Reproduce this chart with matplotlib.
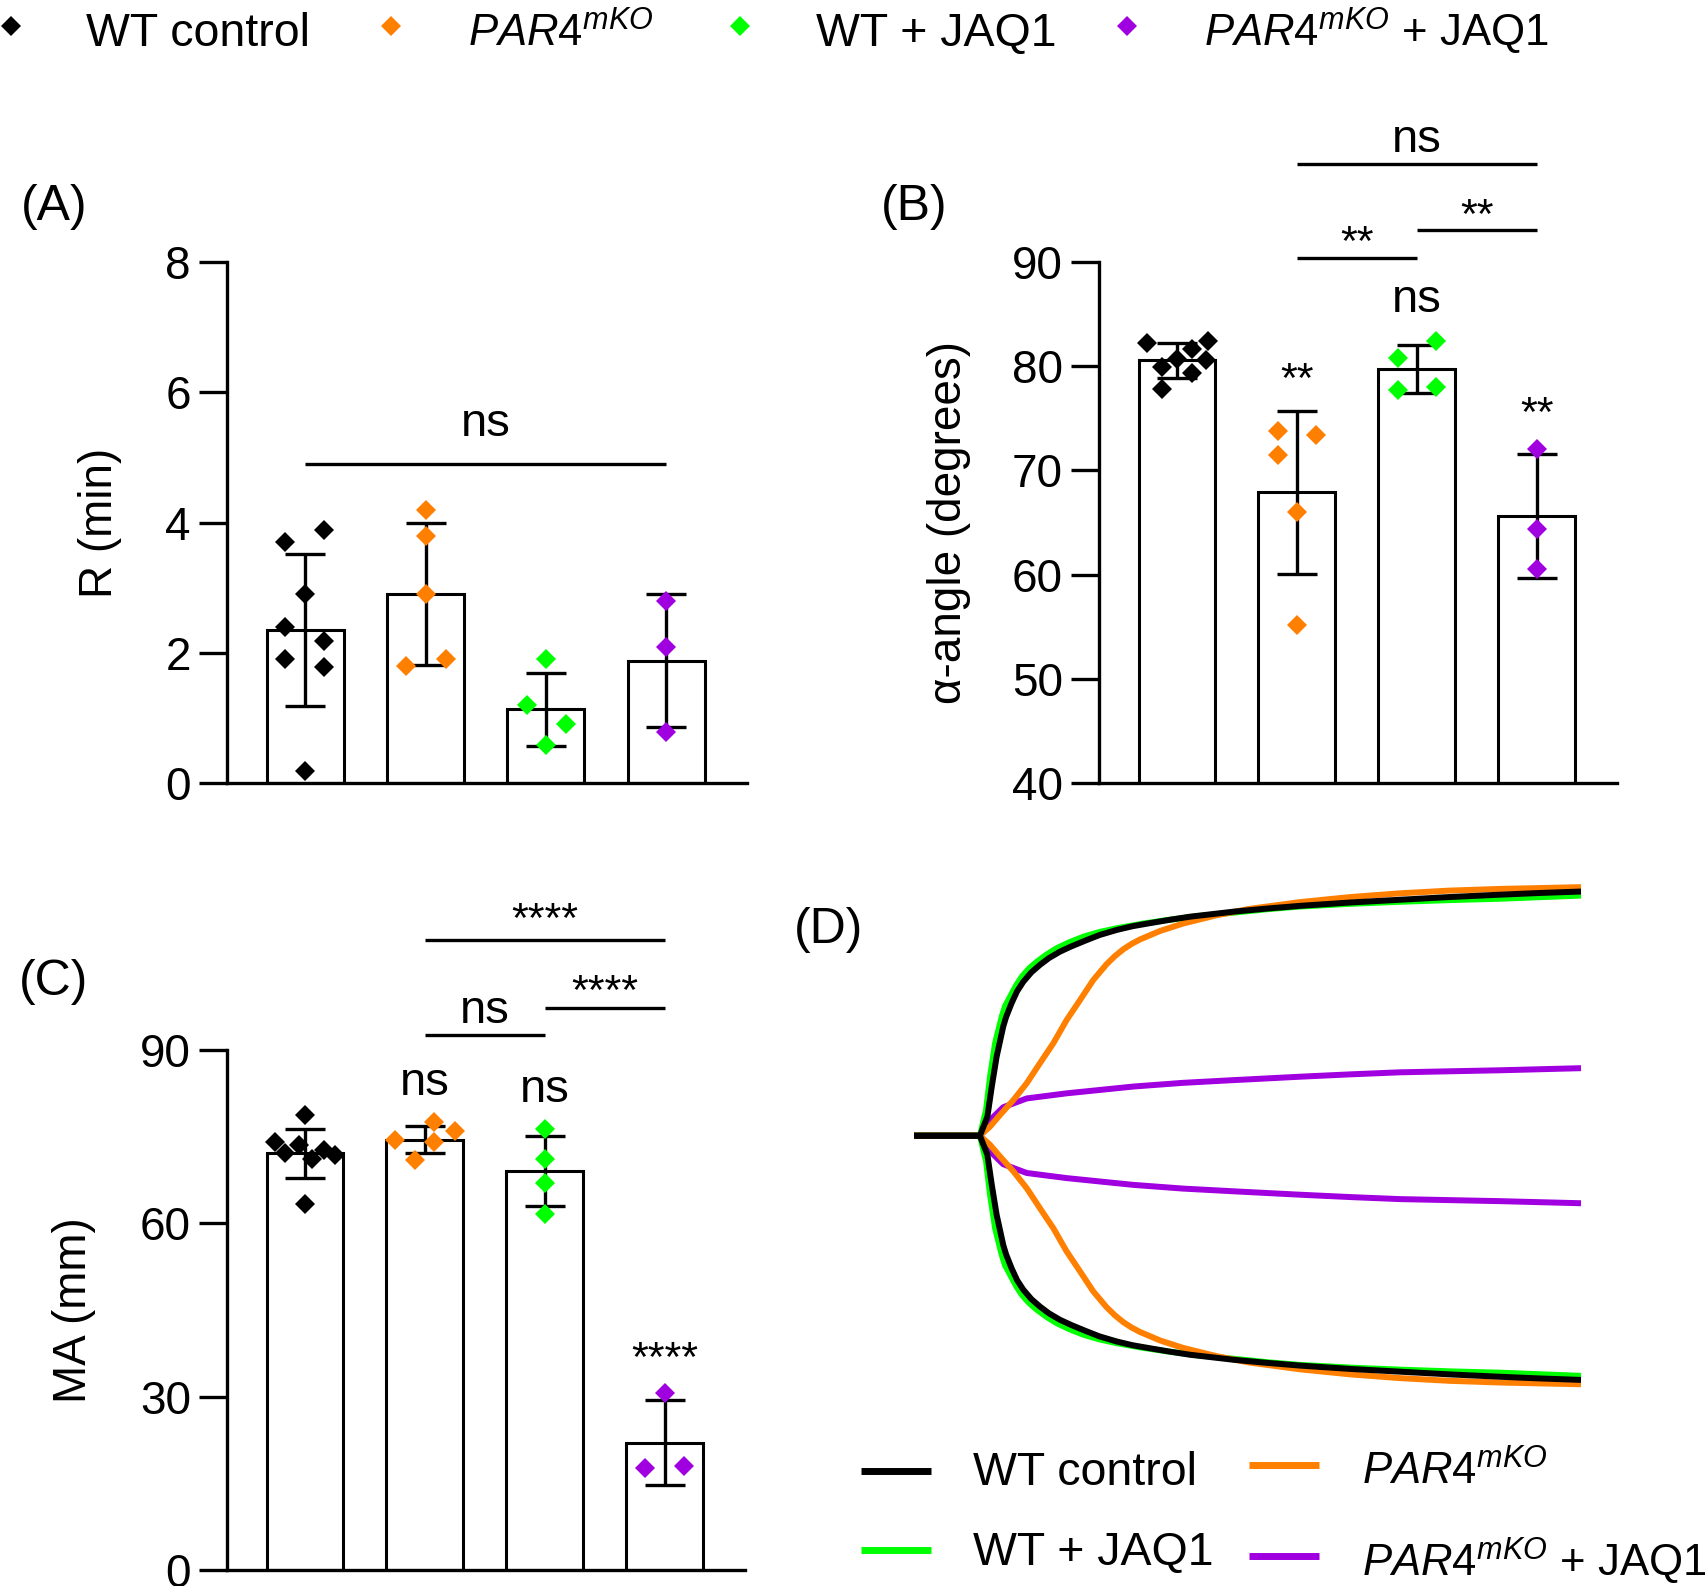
import numpy as np
import matplotlib
matplotlib.use('Agg')
import matplotlib.pyplot as plt
from matplotlib.lines import Line2D

plt.rcParams['font.family'] = ['Liberation Sans', 'DejaVu Sans']
plt.rcParams['mathtext.fontset'] = 'custom'
plt.rcParams['mathtext.rm'] = 'Liberation Sans'
plt.rcParams['mathtext.it'] = 'Liberation Sans:italic'
plt.rcParams['mathtext.bf'] = 'Liberation Sans:bold'

W, H = 1706, 1586

# grupos e cores
grupos = ['WT control', r'$\mathit{PAR4}^{\mathit{mKO}}$',
          'WT + JAQ1', r'$\mathit{PAR4}^{\mathit{mKO}}$ + JAQ1']
cores = ['#000000', '#FF7F00', '#00FF00', '#A000E0']

# (A) R (min)
r_media = [2.35, 2.90, 1.13, 1.88]
r_dp = [1.17, 1.09, 0.56, 1.02]
r_pontos = [[3.70, 3.89, 2.90, 2.40, 2.18, 1.90, 1.78, 0.19],
            [4.19, 3.79, 2.90, 1.79, 1.90],
            [1.90, 1.20, 0.90, 0.59],
            [2.79, 2.09, 0.79]]
r_jit = [[-0.17, 0.16, 0, -0.17, 0.16, -0.17, 0.16, 0],
         [0, 0, 0, -0.16, 0.17],
         [0, -0.16, 0.17, 0],
         [0, 0, 0]]

# (B) alfa-angulo
ang_media = [80.55, 67.9, 79.7, 65.65]
ang_dp = [1.65, 7.8, 2.3, 5.95]
ang_pontos = [[82.2, 82.4, 79.9, 80.7, 81.65, 80.6, 79.3, 77.8],
              [73.8, 73.4, 71.5, 66.0, 55.2],
              [82.4, 80.75, 77.7, 78.0],
              [72.1, 64.4, 60.5]]
ang_jit = [[-0.25, 0.26, -0.125, 0, 0.125, 0.24, 0.125, -0.125],
           [-0.16, 0.16, -0.16, 0, 0],
           [0.16, -0.16, -0.16, 0.16],
           [0, 0, 0]]

# (C) MA (mm)
ma_media = [72.1, 74.5, 69.0, 22.05]
ma_dp = [4.2, 2.4, 6.05, 7.35]
ma_pontos = [[78.75, 74.1, 72.1, 73.55, 71.1, 72.7, 71.8, 63.3],
             [74.5, 77.6, 76.0, 74.0, 71.0],
             [76.3, 71.1, 67.0, 61.7],
             [30.6, 17.6, 18.0]]
ma_jit = [[0, -0.25, -0.165, -0.05, 0.06, 0.155, 0.25, 0],
          [-0.25, 0.08, 0.255, 0.08, -0.08],
          [0, 0, 0, 0],
          [0, -0.165, 0.16]]

# (D) tracados TEG: tempo (min) e amplitude (mm)
t_wt = [0, 2.86, 3.2, 3.4, 3.62, 3.92, 4.05, 4.3, 4.55, 4.83, 5.2, 5.59,
        6.0, 6.5, 7.0, 7.71, 8.3, 9.08, 9.8, 10.59, 11.5, 12.4, 14.4, 15.9,
        17.4, 19.7, 21.95, 24.2, 26.5, 28.3, 30.05]
a_wt = [0, 0, 5.6, 14.5, 23.3, 32.2, 35.0, 39.1, 42.6, 45.4, 48.2, 50.4,
        52.4, 54.3, 55.8, 57.7, 59.2, 60.7, 61.8, 62.7, 63.7, 64.6, 66.1, 67.0,
        67.8, 68.8, 69.6, 70.4, 71.1, 71.6, 72.0]
t_jaq = [0, 2.86, 3.14, 3.32, 3.55, 3.85, 4.0, 4.23, 4.5, 4.76, 5.1, 5.44,
         5.9, 6.35, 6.9, 7.56, 8.3, 9.08, 10.2, 11.35, 12.8, 14.4, 15.9,
         17.4, 19.7, 21.95, 24.2, 26.5, 30.05]
a_jaq = [0, 0, 7.6, 17.4, 27.3, 35.1, 38.2, 41.0, 44.3, 46.9, 49.4, 51.3,
         53.5, 55.3, 57.0, 58.7, 60.1, 61.2, 62.5, 63.6, 64.8, 65.8, 66.8,
         67.6, 68.4, 69.0, 69.5, 69.9, 70.8]
t_ko = [0, 2.86, 3.32, 3.77, 4.38, 4.99, 5.59, 6.2, 6.8, 7.41, 8.01, 8.62,
        9.0, 9.38, 9.76, 10.14, 11.05, 12.1, 13.6, 15.1, 17.4, 19.7, 21.95,
        24.2, 26.5, 30.05]
a_ko = [0, 0, 2.7, 6.1, 10.5, 15.5, 21.4, 27.3, 34.1, 40.0, 45.9, 50.6,
        53.0, 55.0, 56.6, 57.9, 60.4, 62.6, 65.0, 66.9, 68.9, 70.4, 71.5,
        72.3, 72.8, 73.3]
t_kojaq = [0, 2.86, 3.32, 3.92, 4.99, 6.8, 9.83, 12.1, 14.4, 17.4, 19.7,
           21.95, 24.2, 26.5, 30.05]
a_kojaq = [0, 0, 4.6, 8.4, 11.0, 12.5, 14.5, 15.6, 16.4, 17.4, 18.1,
           18.7, 19.0, 19.3, 19.9]

fig = plt.figure(figsize=(W / 100, H / 100), dpi=100)


def eixo_px(x0, y0, x1, y1):
    return fig.add_axes([x0 / W, 1 - y1 / H, (x1 - x0) / W, (y1 - y0) / H])


def estilo(ax, ylim, yticks, ylabel, labx):
    ax.set_xlim(-0.65, 3.67)
    ax.set_ylim(*ylim)
    ax.set_yticks(yticks)
    ax.set_xticks([])
    ax.patch.set_visible(False)
    for s in ['top', 'right']:
        ax.spines[s].set_visible(False)
    for s in ['left', 'bottom']:
        ax.spines[s].set_linewidth(2.4)
    ax.tick_params(axis='y', length=20, width=2.4, labelsize=33, pad=6)
    ax.set_ylabel(ylabel, fontsize=33, va='center')
    ax.yaxis.set_label_coords(labx, 0.5)


def barras(ax, media, dp, pontos, jit):
    x = np.arange(len(media))
    ax.bar(x, media, width=0.64, color='white', edgecolor='black',
           linewidth=2.2, zorder=2)
    ax.errorbar(x, media, yerr=dp, fmt='none', ecolor='black',
                elinewidth=2.4, capsize=14.4, capthick=2.4, zorder=3)
    for i in range(len(media)):
        ax.plot(x[i] + np.array(jit[i]), pontos[i], 'D', ms=10.5, mew=0,
                color=cores[i], zorder=4, clip_on=False)


def linha(ax, x0, x1, y):
    ax.plot([x0, x1], [y, y], color='black', lw=2.4, clip_on=False,
            solid_capstyle='butt')


def nota(ax, x, y, s, size=34):
    ax.text(x, y, s, ha='center', va='baseline', fontsize=size)


# (A)
axA = eixo_px(227, 262, 747, 783)
barras(axA, r_media, r_dp, r_pontos, r_jit)
estilo(axA, (0, 8), [0, 2, 4, 6, 8], 'R (min)', -0.244)
linha(axA, 0, 3, 4.90)
nota(axA, 1.5, 5.33, 'ns')

# (B)
axB = eixo_px(1099, 262, 1617, 783)
barras(axB, ang_media, ang_dp, ang_pontos, ang_jit)
estilo(axB, (40, 90), [40, 50, 60, 70, 80, 90], 'α-angle (degrees)', -0.29)
linha(axB, 1, 3, 99.4)
linha(axB, 1, 2, 90.4)
linha(axB, 2, 3, 93.1)
nota(axB, 2, 100.6, 'ns')
nota(axB, 1.5, 90.67, '**', 31)
nota(axB, 2.5, 93.27, '**', 31)
nota(axB, 2, 85.2, 'ns')
nota(axB, 1, 77.5, '**', 31)
nota(axB, 3, 74.27, '**', 31)

# (C)
axC = eixo_px(227, 1050, 745, 1570)
barras(axC, ma_media, ma_dp, ma_pontos, ma_jit)
estilo(axC, (0, 90), [0, 30, 60, 90], 'MA (mm)', -0.295)
linha(axC, 1, 3, 109.0)
linha(axC, 1, 2, 92.6)
linha(axC, 2, 3, 97.35)
nota(axC, 2, 110.4, '****', 31)
nota(axC, 1.5, 94.7, 'ns')
nota(axC, 2.5, 97.9, '****', 31)
nota(axC, 1, 82.2, 'ns')
nota(axC, 2, 81.05, 'ns')
nota(axC, 3, 34.4, '****', 31)

# (D)
axD = eixo_px(917, 870, 1578, 1400)
axD.set_xlim(0, 30.05)
axD.set_ylim(-38.98, 39.19)
axD.axis('off')
curvas = [(t_kojaq, a_kojaq, cores[3]), (t_jaq, a_jaq, cores[2]),
          (t_ko, a_ko, cores[1]), (t_wt, a_wt, cores[0])]
for t, a, c in curvas:
    a = np.array(a) / 2
    axD.plot(t, a, color=c, lw=4.3, clip_on=False, solid_joinstyle='round')
    axD.plot(t, -a, color=c, lw=4.3, clip_on=False, solid_joinstyle='round')

# letras dos paineis
for txt, x, y in [('(A)', 54, 207), ('(B)', 914, 207), ('(C)', 54, 982), ('(D)', 829, 930)]:
    fig.text(x / W, 1 - y / H, txt, ha='center', va='center', fontsize=36)

# legenda superior (diamantes)
leg_x = [11, 391, 740, 1127]
txt_x = [86, 468, 816, 1204]
for i in range(4):
    fig.add_artist(Line2D([leg_x[i] / W], [1 - 26 / H], marker='D', ms=10.5,
                          mew=0, color=cores[i], linestyle='none',
                          transform=fig.transFigure))
    yb = 45.5 if i in (0, 2) else 47
    fs = 33.5 if i in (0, 2) else 31.5
    fig.text(txt_x[i] / W, 1 - yb / H, grupos[i], ha='left', va='baseline',
             fontsize=fs)

# legenda do painel D (linhas)
leg_d = [(861, 1471, 973, 1485), (1249, 1465, 1362, 1485),
         (861, 1550, 973, 1565), (1249, 1556, 1362, 1577)]
for i, (lx, ly, tx, ty) in enumerate(leg_d):
    fig.add_artist(Line2D([lx / W, (lx + 70) / W], [1 - ly / H, 1 - ly / H],
                          color=cores[i], lw=5, solid_capstyle='butt',
                          transform=fig.transFigure))
    fs = 33.5 if i in (0, 2) else 31.5
    fig.text(tx / W, 1 - ty / H, grupos[i], ha='left', va='baseline',
             fontsize=fs)

fig.savefig('out.png', dpi=100)
